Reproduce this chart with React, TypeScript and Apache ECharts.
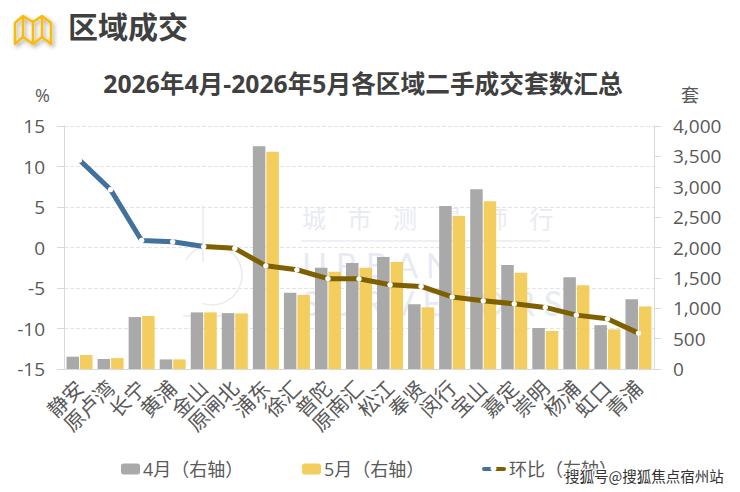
import React, { useEffect, useRef } from "react";
import * as echarts from "echarts";

const FONT = '"Open Sans","Noto Sans CJK SC",sans-serif';
const categories = ["静安","原卢湾","长宁","黄浦","金山","原闸北","浦东","徐汇","普陀","原南汇","松江","奉贤","闵行","宝山","嘉定","崇明","杨浦","虹口","青浦"];
const april = [203,165,855,158,932,920,3665,1257,1665,1745,1845,1065,2685,2957,1710,675,1510,722,1150];
const may = [230,180,873,158,932,915,3578,1218,1600,1665,1762,1015,2520,2760,1585,625,1377,652,1030];
const mom = [10.8,7.15,0.87,0.7,0.12,-0.1,-2.26,-2.75,-3.85,-3.86,-4.6,-4.8,-6.1,-6.58,-6.95,-7.4,-8.35,-8.8,-10.57];
const BLUE = "#41719c";
const BROWN = "#7f6000";
const TEXT = "#595959";
const WM = "#e9ebf2";

function hardStop(offset: number) {
  return new echarts.graphic.LinearGradient(0, 0, 1, 0, [
    { offset: 0, color: BLUE },
    { offset, color: BLUE },
    { offset, color: BROWN },
    { offset: 1, color: BROWN },
  ]);
}

const legendBase = { top: 455, itemHeight: 11, itemWidth: 19, textStyle: { fontFamily: FONT, fontSize: 18, color: TEXT, padding: [0, 0, 0, -2] } };

export default function App() {
  const ref = useRef<HTMLDivElement>(null);
  useEffect(() => {
    const chart = echarts.init(ref.current!, null, { renderer: "svg" });
    const lastBlue = mom.findIndex((v) => v < 0) - 1;
    chart.setOption({
      animation: false,
      backgroundColor: "#fff",
      textStyle: { fontFamily: FONT },
      title: {
        text: "2026年4月-2026年5月各区域二手成交套数汇总",
        left: 358, top: 66, textAlign: "center",
        textStyle: { fontFamily: FONT, fontSize: 24.7, fontWeight: "bold", color: "#404040" },
      },
      legend: [
        { ...legendBase, left: 116, data: ["4月（右轴）"] },
        { ...legendBase, left: 297, data: ["5月（右轴）"] },
        {
          ...legendBase, left: 477, itemWidth: 24, itemHeight: 5,
          data: [{ name: "环比（左轴）", icon: "path://M2,0H23A2,2 0 0 1 23,4H2A2,2 0 0 1 2,0Z", itemStyle: { color: hardStop(0.5) } }],
        },
      ],
      grid: { left: 64, right: 86, top: 126, bottom: 123 },
      xAxis: {
        type: "category", data: categories,
        axisLine: { onZero: false, lineStyle: { color: "#d9d9d9", width: 1 } },
        axisTick: { show: false },
        axisLabel: { rotate: 45, interval: 0, fontSize: 20.5, color: TEXT, margin: 15, fontFamily: FONT },
      },
      yAxis: [
        {
          type: "value", min: -15, max: 15, interval: 5,
          name: "%", nameLocation: "end", nameGap: 22,
          nameTextStyle: { fontSize: 18, color: TEXT, align: "right", padding: [0, 14, 0, 0] },
          axisLine: { show: true, lineStyle: { color: "#d9d9d9" } },
          axisTick: { show: true, length: 7, lineStyle: { color: "#d9d9d9" } },
          axisLabel: { fontSize: 19, color: TEXT, margin: 19, fontFamily: FONT, padding: [0, 0, 3, 0] },
          splitLine: { show: true, lineStyle: { type: "dashed", color: "#e4e4e4" } },
        },
        {
          type: "value", min: 0, max: 4000, interval: 500,
          name: "套", nameLocation: "end", nameGap: 22,
          nameTextStyle: { fontSize: 18, color: TEXT, align: "left", padding: [0, 0, 0, 27] },
          axisLine: { show: true, lineStyle: { color: "#d9d9d9" } },
          axisTick: { show: true, length: 7, lineStyle: { color: "#d9d9d9" } },
          axisLabel: { fontSize: 19, color: TEXT, margin: 19, fontFamily: FONT, padding: [0, 0, 3, 0], formatter: (v: number) => v.toLocaleString("en-US") },
          splitLine: { show: false },
        },
      ],
      series: [
        { name: "4月（右轴）", type: "bar", yAxisIndex: 1, data: april, barWidth: 12.5, barGap: "8%", itemStyle: { color: "#a9a9a9" } },
        { name: "5月（右轴）", type: "bar", yAxisIndex: 1, data: may, barWidth: 12.5, barGap: "8%", itemStyle: { color: "#f3cd5e" } },
        {
          name: "环比（左轴）", type: "line", yAxisIndex: 0, data: mom, z: 5,
          symbol: "circle", symbolSize: 5.5, showAllSymbol: true,
          lineStyle: { width: 5, join: "round", color: hardStop(lastBlue / (mom.length - 1)) },
          itemStyle: { color: "#fff", borderWidth: 0 },
        },
      ],
      graphic: [
        { type: "text", x: 302, y: 205, z: -1, silent: true, style: { text: "城    市    测    量    师    行", font: '24px "Noto Sans CJK SC"', fill: WM } },
        { type: "line", z: -1, silent: true, shape: { x1: 301, y1: 241, x2: 550, y2: 241 }, style: { stroke: WM, lineWidth: 1.5 } },
        { type: "text", x: 302, y: 247, z: -1, silent: true, style: { text: "U R B A N", font: '34px "Lato"', fill: WM } },
        { type: "text", x: 302, y: 285, z: -1, silent: true, style: { text: "S U R V E Y O R S", font: '34px "Lato"', fill: WM } },
        { type: "line", z: -1, silent: true, shape: { x1: 203, y1: 205, x2: 203, y2: 262 }, style: { stroke: WM, lineWidth: 1.5 } },
        { type: "arc", z: -1, silent: true, shape: { cx: 212, cy: 275, r: 30, startAngle: -2.6, endAngle: 1.9 }, style: { stroke: WM, lineWidth: 1.5, fill: "none" } },
        { type: "line", z: -1, silent: true, shape: { x1: 183, y1: 316, x2: 250, y2: 316 }, style: { stroke: WM, lineWidth: 1.5 } },

        { type: "text", x: 68, y: 10, style: { text: "区域成交", font: 'bold 30px "Noto Sans CJK SC"', fill: "#404040", shadowBlur: 3, shadowColor: "rgba(0,0,0,0.3)", shadowOffsetX: 1, shadowOffsetY: 1 } },
        {
          type: "polyline",
          shape: { points: [[15,44],[15,23],[23,16],[23,37],[15,44],[23,37],[33,44],[33,22],[23,16],[33,22],[42,16],[42,37],[33,44],[42,37],[51,44],[51,23],[42,16]] },
          style: { fill: "none", stroke: "#f9bb0b", lineWidth: 2.6, lineJoin: "round", shadowBlur: 4, shadowColor: "rgba(0,0,0,0.35)", shadowOffsetX: 2, shadowOffsetY: 2 },
        },

        { type: "circle", z: 100, shape: { cx: 493.5, cy: 468.5, r: 3 }, style: { fill: "#fff" } },
        { type: "text", z: 100, x: 565, y: 468, style: { text: "搜狐号@搜狐焦点宿州站", font: '14.5px "Noto Sans CJK SC"', fill: "#333", stroke: "#fff", lineWidth: 2.5 } },
      ],
    });
    return () => chart.dispose();
  }, []);
  return <div ref={ref} style={{ position: "fixed", left: 0, top: 0, width: 740, height: 492 }} />;
}
